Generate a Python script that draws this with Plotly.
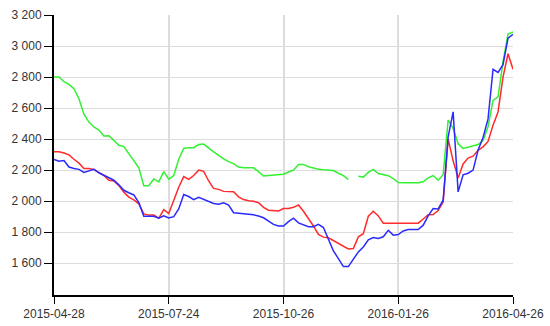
import numpy as np
import pandas as pd
import plotly.graph_objects as go

# Tick dates (equally spaced on a category/trading-day axis)
tick_dates = ["2015-04-28", "2015-07-24", "2015-10-26", "2016-01-26", "2016-04-26"]
y_ticks = [1600, 1800, 2000, 2200, 2400, 2600, 2800, 3000, 3200]

# Sample dates: 23 samples per interval between tick dates
dates = []
for a, b in zip(tick_dates[:-1], tick_dates[1:]):
    rng = pd.to_datetime(np.linspace(pd.Timestamp(a).value, pd.Timestamp(b).value, 24))
    dates.extend([d.strftime("%Y-%m-%d") for d in rng[:-1]])
dates.append(tick_dates[-1])

green = [2800, 2800, 2770, 2753, 2725, 2660, 2560, 2510, 2478, 2458,
         2420, 2422, 2392, 2360, 2352, 2305, 2262, 2215, 2100, 2100,
         2143, 2124, 2190, 2142, 2165, 2270, 2340, 2345, 2345, 2365,
         2368, 2340, 2318, 2295, 2272, 2255, 2242, 2220, 2215, 2215,
         2215, 2190, 2162, 2165, 2167, 2170, 2174, 2188, 2200, 2237,
         2237, 2222, 2212, 2206, 2202, 2200, 2197, 2180, 2165, 2140,
         None, 2160, 2155, 2185, 2205, 2178, 2172, 2164, 2145, 2120,
         2118, 2118, 2118, 2118, 2125, 2150, 2165, 2135, 2170, 2523,
         2470, 2370, 2340, 2350, 2360, 2365, 2390, 2480, 2650, 2672,
         2900, 3078, 3090]

red = [2318, 2318, 2310, 2298, 2270, 2245, 2210, 2211, 2205, 2183,
       2165, 2135, 2130, 2100, 2058, 2026, 2008, 1983, 1918, 1910,
       1910, 1890, 1945, 1920, 2010, 2090, 2158, 2140, 2165, 2200,
       2192, 2130, 2082, 2076, 2063, 2062, 2060, 2028, 2010, 2002,
       1999, 1990, 1960, 1942, 1938, 1937, 1952, 1953, 1960, 1975,
       1935, 1888, 1840, 1785, 1768, 1764, 1745, 1726, 1710, 1692,
       1695, 1770, 1790, 1903, 1935, 1905, 1858, 1858, 1856, 1858,
       1858, 1858, 1858, 1858, 1885, 1913, 1914, 1940, 1995, 2400,
       2260, 2150, 2240, 2278, 2290, 2328, 2350, 2385, 2490, 2575,
       2800, 2950, 2850]

blue = [2269, 2258, 2262, 2220, 2210, 2205, 2185, 2195, 2205, 2183,
        2166, 2150, 2135, 2105, 2070, 2054, 2040, 1990, 1903, 1903,
        1903, 1890, 1905, 1892, 1900, 1950, 2043, 2030, 2010, 2025,
        2010, 2000, 1985, 1980, 1990, 1975, 1925, 1922, 1920, 1916,
        1912, 1904, 1893, 1872, 1850, 1840, 1840, 1868, 1890, 1860,
        1848, 1835, 1835, 1850, 1830, 1760, 1680, 1630, 1578, 1578,
        1630, 1673, 1705, 1750, 1765, 1760, 1770, 1812, 1781, 1785,
        1808, 1817, 1817, 1817, 1845, 1905, 1952, 1950, 2006, 2415,
        2576, 2060, 2170, 2180, 2200, 2330, 2410, 2530, 2850, 2830,
        2880, 3050, 3075]

fig = go.Figure()
for name, vals, col in [("green", green, "#33f033"), ("red", red, "#ff2a2a"), ("blue", blue, "#2a2aff")]:
    fig.add_trace(go.Scatter(x=dates, y=vals, mode="lines", name=name,
                             line=dict(color=col, width=1.5), connectgaps=False))

fig.update_layout(
    width=550, height=326,
    margin=dict(l=54, r=37, t=15, b=31, autoexpand=False),
    paper_bgcolor="white", plot_bgcolor="white",
    showlegend=False,
    separators=". ",
    font=dict(family="Liberation Sans, Arial, sans-serif", size=12, color="#333333"),
)
fig.update_xaxes(
    type="category", range=[0, len(dates) - 1], automargin=False,
    tickmode="array", tickvals=tick_dates, ticktext=tick_dates,
    showgrid=True, gridcolor="#dddddd", gridwidth=1.5,
    showline=True, linecolor="black", linewidth=2,
    ticks="outside", ticklen=7, tickcolor="black", tickwidth=1,
    zeroline=False,
)
fig.update_yaxes(
    range=[1395, 3200], automargin=False,
    tickmode="array", tickvals=y_ticks, tickformat=",d",
    showgrid=True, gridcolor="#dddddd", gridwidth=1,
    showline=True, linecolor="black", linewidth=2,
    ticks="outside", ticklen=8, tickcolor="black", tickwidth=1,
    zeroline=False,
)

fig.write_html("out.html")
